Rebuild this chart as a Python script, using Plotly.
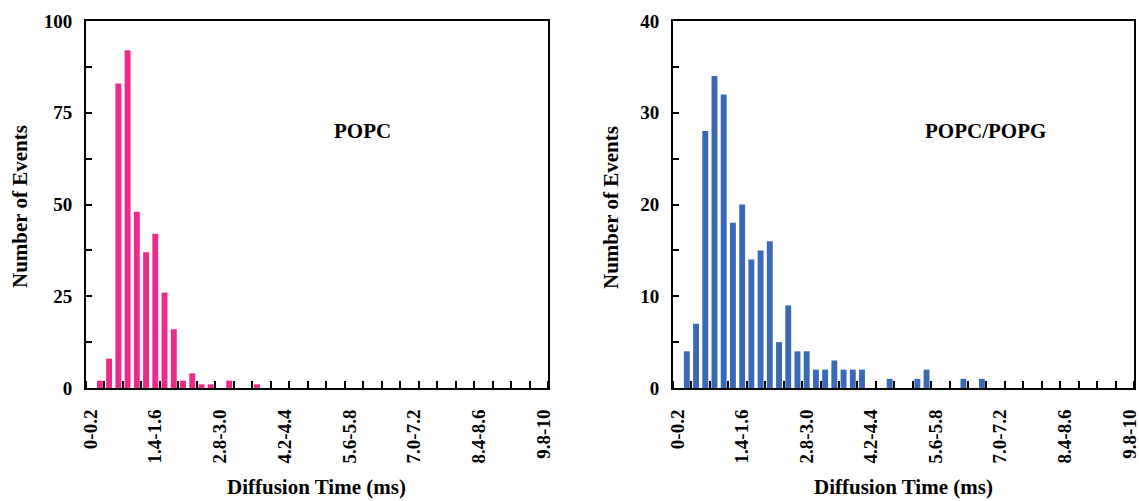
import plotly.graph_objects as go

# Bin labels (0.2 ms bins from 0 to 10 ms)
categories = ["0-0.2", "0.2-0.4", "0.4-0.6", "0.6-0.8", "0.8-1.0", "1.0-1.2", "1.2-1.4",
              "1.4-1.6", "1.6-1.8", "1.8-2.0", "2.0-2.2", "2.2-2.4", "2.4-2.6", "2.6-2.8",
              "2.8-3.0", "3.0-3.2", "3.2-3.4", "3.4-3.6", "3.6-3.8", "3.8-4.0", "4.0-4.2",
              "4.2-4.4", "4.4-4.6", "4.6-4.8", "4.8-5.0", "5.0-5.2", "5.2-5.4", "5.4-5.6",
              "5.6-5.8", "5.8-6.0", "6.0-6.2", "6.2-6.4", "6.4-6.6", "6.6-6.8", "6.8-7.0",
              "7.0-7.2", "7.2-7.4", "7.4-7.6", "7.6-7.8", "7.8-8.0", "8.0-8.2", "8.2-8.4",
              "8.4-8.6", "8.6-8.8", "8.8-9.0", "9.0-9.2", "9.2-9.4", "9.4-9.6", "9.6-9.8",
              "9.8-10"]

popc = [0, 2, 8, 83, 92, 48, 37, 42, 26, 16, 2, 4, 1, 1, 0, 2, 0, 0, 1, 0,
        0, 0, 0, 0, 0, 0, 0, 0, 0, 0, 0, 0, 0, 0, 0, 0, 0, 0, 0, 0,
        0, 0, 0, 0, 0, 0, 0, 0, 0, 0]

popc_popg = [0, 4, 7, 28, 34, 32, 18, 20, 14, 15, 16, 5, 9, 4, 4, 2, 2, 3, 2, 2,
             2, 0, 0, 1, 0, 0, 1, 2, 0, 0, 0, 1, 0, 1, 0, 0, 0, 0, 0, 0,
             0, 0, 0, 0, 0, 0, 0, 0, 0, 0]

label_step = 7
y_ticks_left = [0, 25, 50, 75, 100]
y_ticks_right = [0, 10, 20, 30, 40]

FONT = "Liberation Serif"
idx = list(range(len(categories)))
label_idx = idx[::label_step]
label_txt = [f"<b>{categories[i]}</b>" for i in label_idx]

fig = go.Figure()
fig.add_trace(go.Bar(x=idx, y=popc, marker=dict(color="#EC2A8A", line=dict(width=0)),
                     xaxis="x", yaxis="y", name="POPC", hovertext=categories))
fig.add_trace(go.Bar(x=idx, y=popc_popg, marker=dict(color="#3A6AB7", line=dict(width=0)),
                     xaxis="x2", yaxis="y2", name="POPC/POPG", hovertext=categories))

def xaxis_cfg(domain, anchor):
    return dict(domain=domain, anchor=anchor, range=[-0.5, len(categories) - 0.5],
                automargin=False, ticklabeloverflow="allow",
                tickmode="array", tickvals=label_idx, ticktext=label_txt,
                tickangle=-90, ticks="", showgrid=False, zeroline=False,
                showline=True, linecolor="black", linewidth=2, mirror=True,
                tickfont=dict(family=FONT, size=19, color="black"),
                ticklabelstandoff=12,
                minor=dict(tickmode="linear", tick0=-0.5, dtick=2, ticks="inside",
                           ticklen=7, tickwidth=2, tickcolor="black", showgrid=False))

def yaxis_cfg(domain, anchor, ticks, minor_dtick):
    return dict(domain=domain, anchor=anchor, range=[ticks[0], ticks[-1]],
                automargin=False, ticklabeloverflow="allow",
                tickmode="array", tickvals=ticks, ticktext=[f"<b>{t}</b>" for t in ticks],
                ticks="inside", ticklen=6, tickwidth=2, tickcolor="black",
                showgrid=False, zeroline=False,
                showline=True, linecolor="black", linewidth=2, mirror=True,
                tickfont=dict(family=FONT, size=19, color="black"),
                ticklabelstandoff=8,
                minor=dict(tickmode="linear", tick0=0, dtick=minor_dtick, ticks="inside",
                           ticklen=6, tickwidth=2, tickcolor="black", showgrid=False))

W, H = 1139, 501
ydom = [1 - 388 / H, 1 - 21 / H]
fig.update_layout(
    width=W, height=H, margin=dict(l=0, r=0, t=0, b=0, autoexpand=False),
    paper_bgcolor="white", plot_bgcolor="white", showlegend=False,
    bargap=0.36,
    xaxis=xaxis_cfg([86 / W, 548 / W], "y"),
    yaxis=yaxis_cfg(ydom, "x", y_ticks_left, 12.5),
    xaxis2=xaxis_cfg([673 / W, 1134 / W], "y2"),
    yaxis2=yaxis_cfg(ydom, "x2", y_ticks_right, 5),
)

title_font = dict(family=FONT, size=21, color="black")
ann = [
    dict(text="<b>POPC</b>", x=362 / W, y=1 - 131 / H, font=dict(family=FONT, size=21, color="black")),
    dict(text="<b>POPC/POPG</b>", x=985 / W, y=1 - 131 / H, font=dict(family=FONT, size=21, color="black")),
    dict(text="<b>Diffusion Time (ms)</b>", x=317 / W, y=1 - 487 / H, font=title_font),
    dict(text="<b>Diffusion Time (ms)</b>", x=903 / W, y=1 - 487 / H, font=title_font),
    dict(text="<b>Number of Events</b>", x=20 / W, y=1 - 207 / H, textangle=-90, font=title_font),
    dict(text="<b>Number of Events</b>", x=611 / W, y=1 - 207 / H, textangle=-90, font=title_font),
]
for a in ann:
    a.update(xref="paper", yref="paper", showarrow=False, xanchor="center", yanchor="middle")
fig.update_layout(annotations=ann)

fig.write_html("out.html")
